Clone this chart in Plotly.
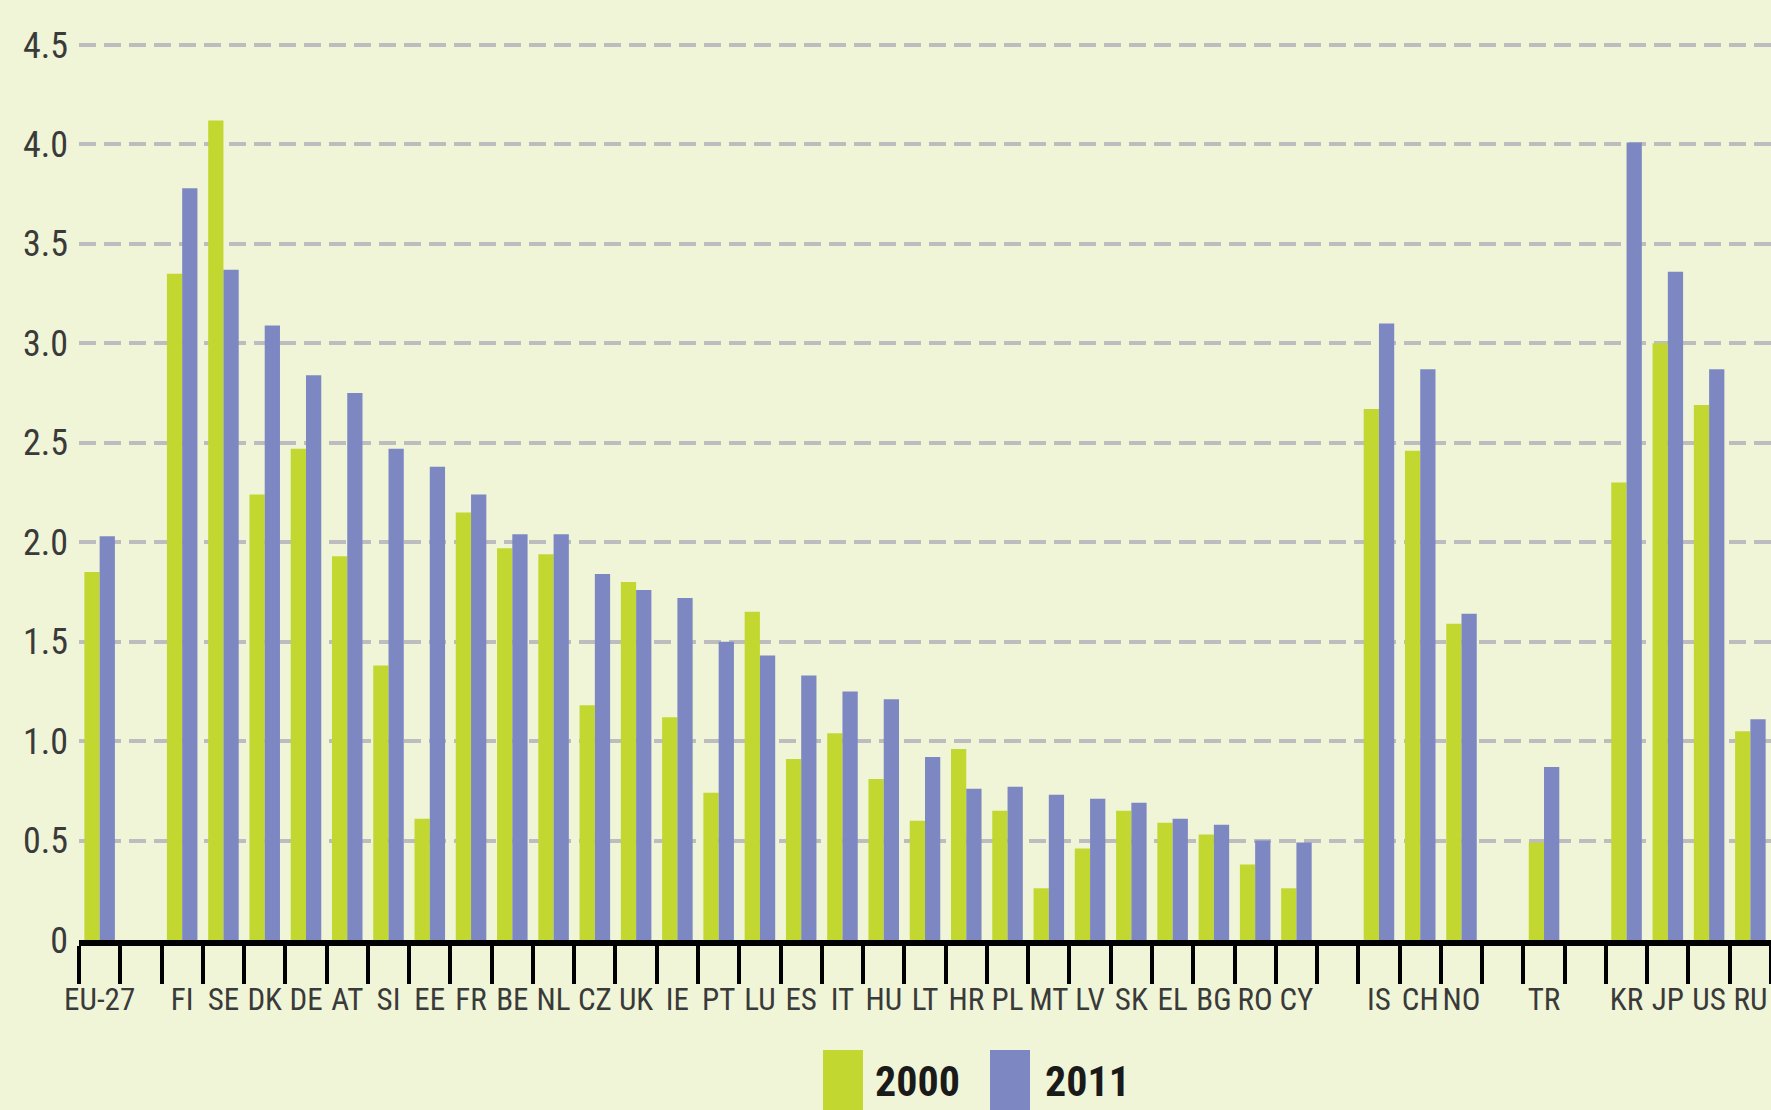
import plotly.graph_objects as go

categories = ["EU-27", " ", "FI", "SE", "DK", "DE", "AT", "SI", "EE", "FR", "BE", "NL", "CZ", "UK",
              "IE", "PT", "LU", "ES", "IT", "HU", "LT", "HR", "PL", "MT", "LV", "SK", "EL", "BG",
              "RO", "CY", "  ", "IS", "CH", "NO", "   ", "TR", "    ", "KR", "JP", "US", "RU"]

values_2000 = [1.85, None, 3.35, 4.12, 2.24, 2.47, 1.93, 1.38, 0.61, 2.15, 1.97, 1.94, 1.18, 1.80,
               1.12, 0.74, 1.65, 0.91, 1.04, 0.81, 0.60, 0.96, 0.65, 0.26, 0.46, 0.65, 0.59, 0.53,
               0.38, 0.26, None, 2.67, 2.46, 1.59, None, 0.49, None, 2.30, 3.00, 2.69, 1.05]

values_2011 = [2.03, None, 3.78, 3.37, 3.09, 2.84, 2.75, 2.47, 2.38, 2.24, 2.04, 2.04, 1.84, 1.76,
               1.72, 1.50, 1.43, 1.33, 1.25, 1.21, 0.92, 0.76, 0.77, 0.73, 0.71, 0.69, 0.61, 0.58,
               0.50, 0.49, None, 3.10, 2.87, 1.64, None, 0.87, None, 4.01, 3.36, 2.87, 1.11]

series_names = ["2000", "2011"]
y_tickvals = [0, 0.5, 1.0, 1.5, 2.0, 2.5, 3.0, 3.5, 4.0, 4.5]
y_ticktext = ["0", "0.5", "1.0", "1.5", "2.0", "2.5", "3.0", "3.5", "4.0", "4.5"]

GREEN = "#C2D830"
BLUE = "#7D88C3"
BG = "#F0F5D7"
FONT = "Roboto Condensed, Liberation Sans Narrow, Liberation Sans, Arial, sans-serif"

fig = go.Figure()
fig.add_trace(go.Bar(x=categories, y=values_2000, name=series_names[0],
                     marker=dict(color=GREEN, line=dict(width=0)), showlegend=False))
fig.add_trace(go.Bar(x=categories, y=values_2011, name=series_names[1],
                     marker=dict(color=BLUE, line=dict(width=0)), showlegend=False))

W, H = 1771, 1110
YMAX = 4.52
L, R, B = 79, 0, 170
T = 45 - round((YMAX - 4.5) / 4.5 * (H - B - 45))
pw, ph = W - L - R, H - T - B

def px_x(x):
    return (x - L) / pw

def px_y(y):
    return (H - B - y) / ph

# manual legend (large swatches like the reference)
legend_items = [(series_names[0], GREEN, 823, 863, 873), (series_names[1], BLUE, 990, 1030, 1043)]
for name, col, x0, x1, tx in legend_items:
    fig.add_shape(type="rect", xref="paper", yref="paper",
                  x0=px_x(x0), x1=px_x(x1), y0=px_y(1050), y1=px_y(1115),
                  fillcolor=col, line=dict(width=0), layer="above")
    fig.add_annotation(xref="paper", yref="paper", x=px_x(tx), y=px_y(1081),
                       xanchor="left", yanchor="middle", text="<b>%s</b>" % name,
                       showarrow=False, font=dict(family=FONT, size=42, color="#1a1a1a"))

fig.update_layout(
    width=W, height=H,
    margin=dict(l=L, r=R, t=T, b=B, pad=0),
    paper_bgcolor=BG, plot_bgcolor=BG,
    barmode="group", bargap=0.26, bargroupgap=0.0,
    font=dict(family=FONT, color="#333333"),
)
fig.update_xaxes(
    type="category", tickson="boundaries", ticks="outside", ticklen=38, tickwidth=3.5,
    tickcolor="black", showline=True, linecolor="black", linewidth=6,
    showgrid=False, tickfont=dict(family=FONT, size=31, color="#3a3a3a"),
    tickangle=0, range=[-0.5, len(categories) - 0.5], fixedrange=True,
    ticklabelstandoff=27,
)
fig.update_yaxes(
    range=[0, YMAX], tickvals=y_tickvals, ticktext=y_ticktext,
    showgrid=True, gridcolor="#BDBDBF", gridwidth=4, griddash="17px,8px",
    zeroline=False, showline=False, ticks="", ticklabelstandoff=10,
    tickfont=dict(family=FONT, size=36, color="#3a3a3a"), fixedrange=True,
)

fig.write_html("out.html", config={"displayModeBar": False},
               post_script="document.body.style.margin='0';document.body.style.padding='0';")
